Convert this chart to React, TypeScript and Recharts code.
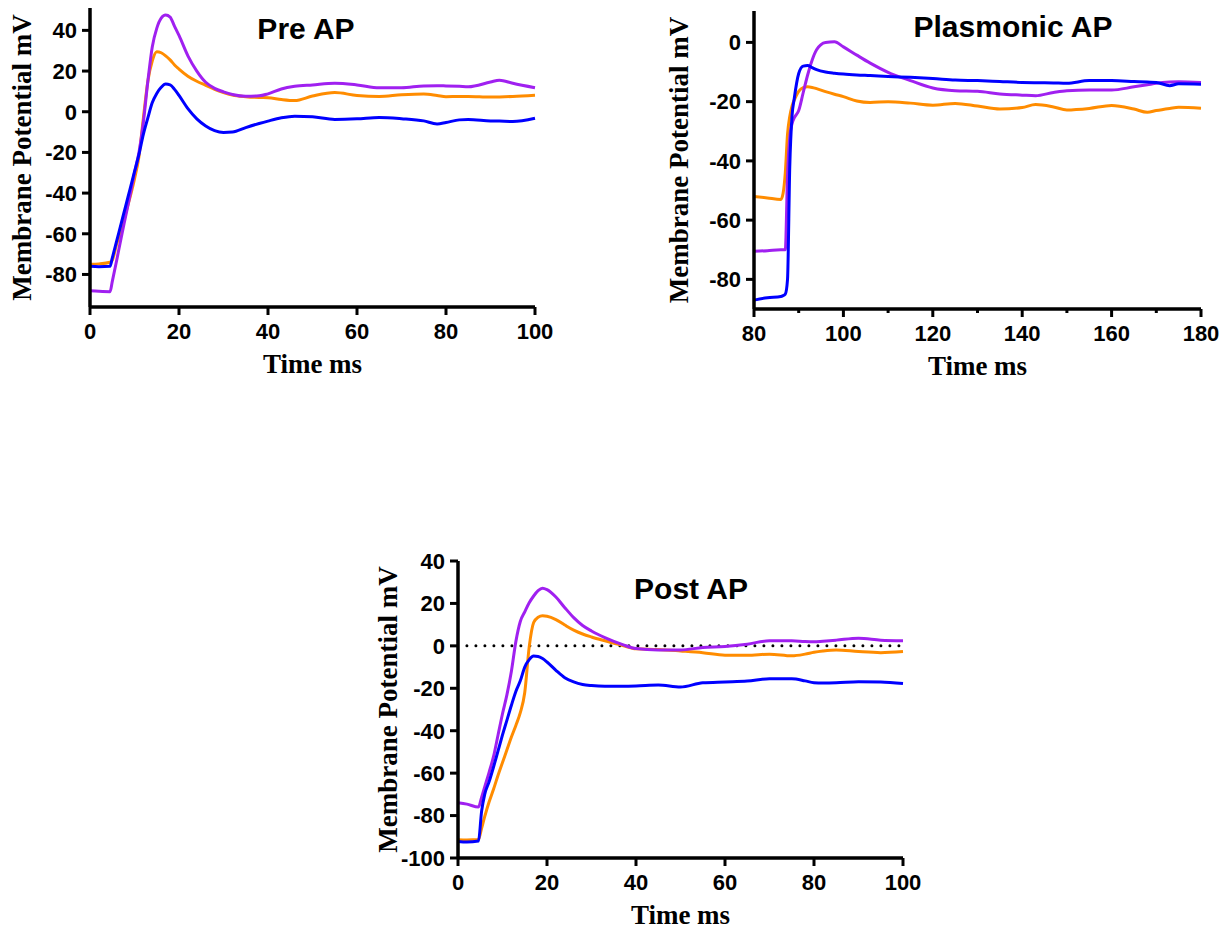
import { LineChart, Line, XAxis, YAxis, ReferenceLine } from 'recharts'

const COLORS = { purple: '#a020f0', orange: '#ff8c00', blue: '#0000ff' }

// Pre AP
const preT = [0, 2, 4.5, 5, 6, 7, 8, 9, 10, 11, 12, 13, 14, 15, 16, 17, 18, 19, 20, 22, 24, 26, 28, 30, 32, 35, 38, 40, 43, 46, 50, 55, 60, 65, 70, 75, 78, 80, 83, 85, 90, 92, 95, 100]
const prePurple = [-88, -88.3, -88.5, -83.5, -73, -62, -51.5, -41, -30, -20, -5, 15, 32, 41, 46, 47.5, 46.5, 42, 37.5, 27.5, 20, 14.5, 11.5, 9.8, 8.5, 7.6, 7.8, 8.8, 11.2, 12.5, 13.2, 14, 13.2, 11.8, 11.8, 12.7, 12.8, 12.7, 12.5, 12.3, 14.6, 15.5, 14, 11.8]
const preOrange = [-75, -74.8, -74, -73, -65, -58, -50, -42, -33, -22, -3, 15, 25, 29.5, 29, 27.5, 25.5, 23, 21, 17.5, 15, 13, 11, 9.4, 8.2, 7.4, 7, 6.9, 6, 5.5, 7.7, 9.4, 8, 7.5, 8.3, 8.7, 8, 7.4, 7.5, 7.5, 7.2, 7.3, 7.5, 8.1]
const preBlue = [-76, -76.2, -76, -72, -63.5, -55, -46.5, -38, -29.5, -21, -11, -3, 4.5, 9, 12, 13.6, 13.2, 11, 8, 1.5, -3.5, -7, -9.3, -10.2, -10, -7.8, -5.8, -4.6, -3, -2.2, -2.5, -3.8, -3.5, -2.8, -3.4, -4.5, -6, -5.3, -4, -3.8, -4.5, -4.6, -4.8, -3.2]
const preXTicks = [0, 20, 40, 60, 80, 100]
const preYTicks = [-80, -60, -40, -20, 0, 20, 40]

// Plasmonic AP
const plasT = [80, 83, 86, 86.5, 87, 87.5, 88, 88.5, 89, 90, 91, 92, 93, 94, 96, 98, 100, 103, 106, 110, 115, 120, 125, 130, 135, 140, 143, 147, 150, 155, 160, 165, 168, 170, 173, 175, 180]
const plasOrange = [-52, -52.5, -53, -51, -44, -31, -25, -21.5, -19.5, -16.5, -15.3, -15, -15.2, -15.6, -16.6, -17.5, -18.3, -19.8, -20.3, -20, -20.5, -21.2, -20.6, -21.5, -22.5, -22, -21, -21.8, -22.8, -22.3, -21.3, -22.5, -23.6, -23, -22.3, -21.9, -22.2]
const plasPurple = [-70.5, -70.3, -70, -70, -70, -45, -32, -27.5, -25.5, -23, -17, -11, -6, -2.5, 0, 0.2, -1.5, -4.3, -7, -10.1, -12.9, -15.4, -16.3, -16.5, -17.4, -17.8, -18, -16.9, -16.3, -16.1, -16.1, -15, -14.3, -13.8, -13.4, -13.3, -13.5]
const plasBlue = [-87, -86.2, -85.8, -85.5, -85, -80, -42, -25, -19, -10.5, -8, -7.8, -8.5, -9.2, -10, -10.4, -10.7, -11, -11.2, -11.5, -11.8, -12.2, -12.7, -12.9, -13.2, -13.5, -13.6, -13.7, -13.8, -12.9, -12.9, -13.2, -13.4, -13.5, -14.6, -14, -14.1]
const plasXTicks = [80, 90, 100, 110, 120, 130, 140, 150, 160, 170, 180]
const plasXLabels = [80, 100, 120, 140, 160, 180]
const plasYTicks = [-80, -60, -40, -20, 0]

// Post AP
const postT = [0, 2, 4.6, 5.3, 6, 7, 8, 9, 10, 11, 12, 13, 14, 15, 16, 17, 18, 19, 20, 22, 24, 26, 28, 30, 33, 37, 40, 45, 50, 55, 60, 65, 70, 75, 78, 80, 82, 85, 90, 95, 100]
const postPurple = [-74, -74.6, -76, -71.4, -66.5, -59.5, -52, -42, -32, -23, -12, 2, 11.5, 16, 20.3, 23.5, 26, 27.2, 26.5, 23, 18, 13.3, 9.6, 7, 3.9, 0.6, -1.3, -1.9, -1.9, -0.8, -0.3, 0.8, 2.4, 2.4, 2, 1.9, 2.2, 2.7, 3.6, 2.7, 2.4]
const postOrange = [-91.4, -91.5, -91.3, -86, -80.5, -73.5, -67.5, -61, -55, -49, -43, -37.5, -31.5, -22, -0.5, 11, 13.5, 14.2, 14, 12.4, 9.8, 7.4, 5.6, 4.2, 2.4, 0.2, -1.4, -1.7, -2.4, -3.2, -4.4, -4.4, -3.9, -4.7, -3.9, -3, -2.4, -1.9, -2.7, -3.2, -2.7]
const postBlue = [-92.2, -92.5, -92, -78, -70, -64, -57, -49.5, -42, -35, -28, -21.5, -16.5, -10, -6.5, -4.8, -5, -6, -7.6, -11.5, -15, -17, -18.2, -18.7, -19, -19, -18.9, -18.5, -19.4, -17.4, -17, -16.6, -15.5, -15.5, -16.5, -17.4, -17.5, -17.4, -16.9, -17, -17.7]
const postXTicks = [0, 20, 40, 60, 80, 100]
const postYTicks = [-100, -80, -60, -40, -20, 0, 20, 40]

const rows = (t: number[], purple: number[], orange: number[], blue: number[]) =>
  t.map((v, i) => ({ t: v, purple: purple[i], orange: orange[i], blue: blue[i] }))

const tickFont = { fontFamily: '"Liberation Sans", Arial, sans-serif', fontWeight: 700, fontSize: 22, fill: '#000' }
const titleFont = '"Liberation Serif", "Times New Roman", serif'

const XTick = ({ x, y, payload, labels }: any) => {
  const major = !labels || labels.includes(payload.value)
  return (
    <g>
      <line x1={x} x2={x} y1={y} y2={y + (major ? 8 : 4)} stroke="#000" strokeWidth={3} />
      {major && (
        <text x={x} y={y + 32} textAnchor="middle" {...tickFont}>
          {payload.value}
        </text>
      )}
    </g>
  )
}

function Panel({ data, left, top, width, height, margin, yWidth, xHeight, xDomain, xTicks, xLabels, yDomain, yTicks, yLabelDx, zeroLine }: any) {
  return (
    <div style={{ position: 'absolute', left, top }}>
      <LineChart width={width} height={height} data={data} margin={margin}>
        <XAxis
          type="number"
          dataKey="t"
          domain={xDomain}
          ticks={xTicks}
          interval={0}
          height={xHeight}
          axisLine={{ stroke: '#000', strokeWidth: 3.5 }}
          tickLine={false}
          tickSize={0}
          tickMargin={0}
          tick={<XTick labels={xLabels} />}
          label={{ value: 'Time ms', position: 'center', dy: 20, style: { fontFamily: titleFont, fontWeight: 700, fontSize: 27, fill: '#000' } }}
        />
        <YAxis
          type="number"
          domain={yDomain}
          ticks={yTicks}
          interval={0}
          width={yWidth}
          axisLine={{ stroke: '#000', strokeWidth: 3.5 }}
          tickLine={{ stroke: '#000', strokeWidth: 3 }}
          tickSize={8}
          tickMargin={5}
          tick={tickFont}
          label={{ value: 'Membrane Potential mV', angle: -90, position: 'center', dx: yLabelDx, style: { fontFamily: titleFont, fontWeight: 700, fontSize: 27, fill: '#000', textAnchor: 'middle' } }}
        />
        {zeroLine && (
          <ReferenceLine
            segment={[{ x: 2, y: 0 }, { x: 100, y: 0 }]}
            stroke="#000"
            strokeWidth={3}
            strokeDasharray="0 9"
            strokeLinecap="round"
          />
        )}
        <Line type="monotone" dataKey="orange" stroke={COLORS.orange} strokeWidth={3} dot={false} isAnimationActive={false} />
        <Line type="monotone" dataKey="purple" stroke={COLORS.purple} strokeWidth={3} dot={false} isAnimationActive={false} />
        <Line type="monotone" dataKey="blue" stroke={COLORS.blue} strokeWidth={3} dot={false} isAnimationActive={false} />
      </LineChart>
    </div>
  )
}

const Title = ({ text, x, y }: { text: string; x: number; y: number }) => (
  <div
    style={{
      position: 'absolute',
      left: x,
      top: y,
      transform: 'translate(-50%, -50%)',
      fontFamily: '"Liberation Sans", Arial, sans-serif',
      fontWeight: 700,
      fontSize: 30,
      lineHeight: 1,
      whiteSpace: 'nowrap',
    }}
  >
    {text}
  </div>
)

export default function App() {
  return (
    <div style={{ position: 'absolute', left: 0, top: 0, width: 1230, height: 931, background: '#fff' }}>
      <Panel
        data={rows(preT, prePurple, preOrange, preBlue)}
        left={0}
        top={0}
        width={560}
        height={380}
        margin={{ top: 8, right: 25, left: 0, bottom: 0 }}
        yWidth={90}
        xHeight={73}
        xDomain={[0, 100]}
        xTicks={preXTicks}
        yDomain={[-96, 51]}
        yTicks={preYTicks}
        yLabelDx={-23.5}
      />
      <Panel
        data={rows(plasT, plasPurple, plasOrange, plasBlue)}
        left={660}
        top={0}
        width={570}
        height={382}
        margin={{ top: 11, right: 29, left: 0, bottom: 0 }}
        yWidth={94}
        xHeight={73}
        xDomain={[80, 180]}
        xTicks={plasXTicks}
        xLabels={plasXLabels}
        yDomain={[-90, 10.6]}
        yTicks={plasYTicks}
        yLabelDx={-29}
      />
      <Panel
        data={rows(postT, postPurple, postOrange, postBlue)}
        left={360}
        top={540}
        width={570}
        height={391}
        margin={{ top: 21, right: 27, left: 0, bottom: 0 }}
        yWidth={98}
        xHeight={73}
        xDomain={[0, 100]}
        xTicks={postXTicks}
        yDomain={[-100, 40]}
        yTicks={postYTicks}
        yLabelDx={-22}
        zeroLine
      />
      <Title text="Pre AP" x={306} y={29} />
      <Title text="Plasmonic AP" x={1013} y={27} />
      <Title text="Post AP" x={691} y={589} />
    </div>
  )
}
